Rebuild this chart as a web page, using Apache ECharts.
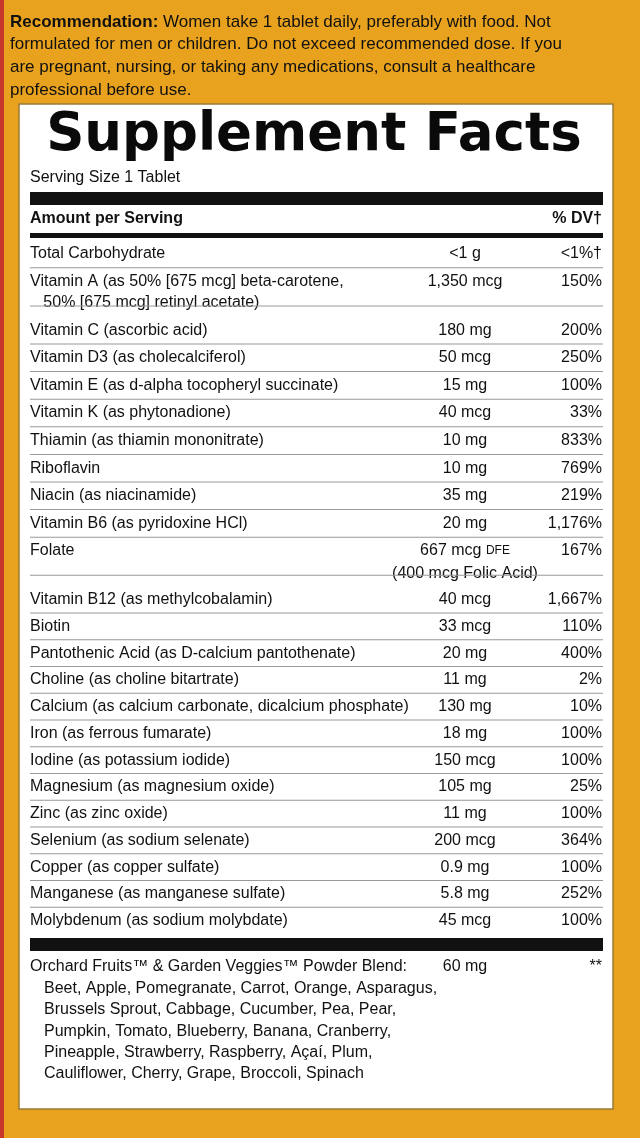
<!DOCTYPE html>
<html><head><meta charset="utf-8">
<script src="https://cdn.jsdelivr.net/npm/echarts@6/dist/echarts.min.js"></script>
<style>html,body{margin:0;padding:0;background:#E8A21E}#c{width:640px;height:1138px}</style>
</head><body><div id="c"></div>
<script>
const recommendation = ["{b|Recommendation:} Women take 1 tablet daily, preferably with food. Not",
  "formulated for men or children. Do not exceed recommended dose. If you",
  "are pregnant, nursing, or taking any medications, consult a healthcare",
  "professional before use."];
const title = "Supplement Facts";
const servingSize = "Serving Size 1 Tablet";
const nutrients = [
  ["Total Carbohydrate"],
  ["Vitamin A (as 50% [675 mcg] beta-carotene,", "   50% [675 mcg] retinyl acetate)"],
  ["Vitamin C (ascorbic acid)"],
  ["Vitamin D3 (as cholecalciferol)"],
  ["Vitamin E (as d-alpha tocopheryl succinate)"],
  ["Vitamin K (as phytonadione)"],
  ["Thiamin (as thiamin mononitrate)"],
  ["Riboflavin"],
  ["Niacin (as niacinamide)"],
  ["Vitamin B6 (as pyridoxine HCl)"],
  ["Folate"],
  ["Vitamin B12 (as methylcobalamin)"],
  ["Biotin"],
  ["Pantothenic Acid (as D-calcium pantothenate)"],
  ["Choline (as choline bitartrate)"],
  ["Calcium (as calcium carbonate, dicalcium phosphate)"],
  ["Iron (as ferrous fumarate)"],
  ["Iodine (as potassium iodide)"],
  ["Magnesium (as magnesium oxide)"],
  ["Zinc (as zinc oxide)"],
  ["Selenium (as sodium selenate)"],
  ["Copper (as copper sulfate)"],
  ["Manganese (as manganese sulfate)"],
  ["Molybdenum (as sodium molybdate)"]
];
const amounts = [["<1 g"],["1,350 mcg"],["180 mg"],["50 mcg"],["15 mg"],["40 mcg"],["10 mg"],["10 mg"],["35 mg"],["20 mg"],
  ["667 mcg {s|DFE}","(400 mcg Folic Acid)"],["40 mcg"],["33 mcg"],["20 mg"],["11 mg"],["130 mg"],["18 mg"],["150 mcg"],["105 mg"],["11 mg"],["200 mcg"],["0.9 mg"],["5.8 mg"],["45 mcg"]];
const dailyValues = ["<1%†","150%","200%","250%","100%","33%","833%","769%","219%","1,176%","167%","1,667%","110%","400%","2%","10%","100%","100%","25%","100%","364%","100%","252%","100%"];
const blendName = ["Orchard Fruits™ & Garden Veggies™ Powder Blend:",
  "Beet, Apple, Pomegranate, Carrot, Orange, Asparagus,",
  "Brussels Sprout, Cabbage, Cucumber, Pea, Pear,",
  "Pumpkin, Tomato, Blueberry, Banana, Cranberry,",
  "Pineapple, Strawberry, Raspberry, Açaí, Plum,",
  "Cauliflower, Cherry, Grape, Broccoli, Spinach"];
const blendAmount = "60 mg";
const blendDV = "**";

const F = "'Liberation Sans', Arial, sans-serif";
const g = [];
const txt = (x, y, s, o) => g.push({type:'text', x, y, style:Object.assign({text:s, fill:'#111', font:'16px '+F, verticalAlign:'middle', align:'left'}, o||{})});
const rect = (x,y,w,h,fill,o) => g.push(Object.assign({type:'rect', shape:{x,y,width:w,height:h}, style:{fill}}, o||{}));

rect(0,0,4,1138,'#C8372A');
rect(19,104,594,1005,'#fff',{style:{fill:'#fff',stroke:'#9a7a3a',lineWidth:1.5}});
recommendation.forEach((l,i)=>txt(10, 22+i*22.8, l, {font:'17px '+F, rich:{b:{font:'bold 17px '+F, fill:'#111'}}}));
txt(314, 136, title, {font:'bold 53px "DejaVu Sans", sans-serif', align:'center', fill:'#0a0a0a'});
txt(30, 178, servingSize);
rect(30,192,573,13,'#111');
txt(30, 219, 'Amount per Serving', {font:'bold 16px '+F});
txt(602, 219, '% DV†', {font:'bold 16px '+F, align:'right'});
rect(30,233,573,5,'#111');

let y = 254;
nutrients.forEach((n,i)=>{
  const lines = Math.max(n.length, amounts[i].length);
  n.forEach((l,k)=>txt(30, y+k*21, l));
  amounts[i].forEach((a,k)=>txt(465, y+k*23, a, {align:'center', rich:{s:{font:'12px '+F, fill:'#111'}}}));
  txt(602, y, dailyValues[i], {align:'right'});
  const h = (i < 11 ? 27.6 : 26.75) + (lines-1)*21;
  if (i < nutrients.length-1) rect(30, y+h/2-0.5+ (lines-1)*10.5*0, 573, 1, '#999');
  y += h;
});
rect(30,938,573,13,'#111');
blendName.forEach((l,i)=>txt(i?44:30, 967+i*21.4, l));
txt(465, 967, blendAmount, {align:'center'});
txt(602, 967, blendDV, {align:'right'});

const chart = echarts.init(document.getElementById('c'));
chart.setOption({animation:false, graphic:{elements:g}});
</script></body></html>
